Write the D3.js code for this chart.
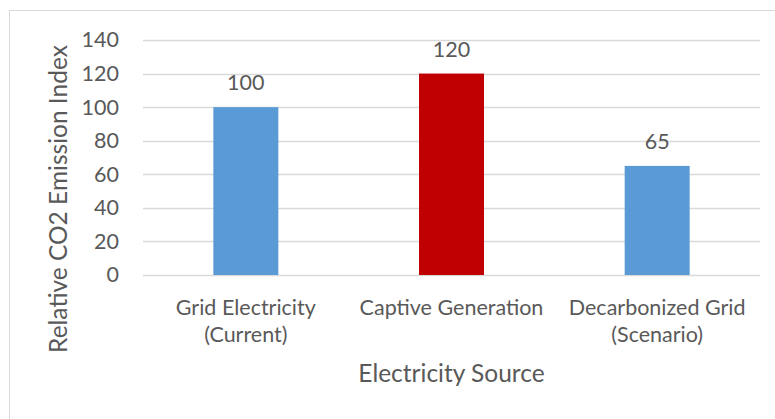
<!DOCTYPE html>
<html>
<head>
<meta charset="utf-8">
<script src="https://cdn.jsdelivr.net/npm/d3@7"></script>
<style>
  html, body { margin: 0; padding: 0; background: #fff; }
  svg { display: block; }
  text { font-family: Lato, "Open Sans", sans-serif; fill: #595959; }
</style>
</head>
<body>
<svg id="chart" width="775" height="419"></svg>
<script>
// Relative CO2 emission index by electricity source
const categories = [["Grid Electricity", "(Current)"], ["Captive Generation"], ["Decarbonized Grid", "(Scenario)"]];
const values = [100, 120, 65];
const barColors = ["#5b9bd5", "#c00000", "#5b9bd5"];
const yTicks = [0, 20, 40, 60, 80, 100, 120, 140];
const yTitle = "Relative CO2 Emission Index";
const xTitle = "Electricity Source";

const W = 775, H = 419;
const plot = { left: 143, right: 760, top: 40, bottom: 275 };
const labelSize = 21.5, titleSize = 24.5;

const svg = d3.select("#chart");

// chart area frame
svg.append("rect")
  .attr("x", 9.5).attr("y", 10.5)
  .attr("width", W + 10).attr("height", H + 10)
  .attr("fill", "#fff").attr("stroke", "#d9d9d9").attr("stroke-width", 1);

const x = d3.scaleBand()
  .domain(d3.range(categories.length))
  .range([plot.left, plot.right])
  .paddingInner(0).paddingOuter(0);

const y = d3.scaleLinear().domain([0, 140]).range([plot.bottom, plot.top]);

// gridlines
svg.append("g").selectAll("line").data(yTicks).join("line")
  .attr("x1", plot.left).attr("x2", plot.right)
  .attr("y1", d => Math.round(y(d)) + 0.5).attr("y2", d => Math.round(y(d)) + 0.5)
  .attr("stroke", "#d9d9d9").attr("stroke-width", 1.3);

// y axis labels
const yAxis = d3.axisLeft(y).tickValues(yTicks).tickSize(0).tickPadding(0);
const gy = svg.append("g").attr("transform", `translate(119,0)`).call(yAxis);
gy.select(".domain").remove();
gy.selectAll("text").attr("font-size", labelSize).attr("fill", "#595959")
  .style("font-family", "Lato, 'Open Sans', sans-serif");

// bars
const barW = x.bandwidth() * 0.316;
svg.append("g").selectAll("rect").data(values).join("rect")
  .attr("x", (d, i) => x(i) + x.bandwidth() / 2 - barW / 2)
  .attr("y", d => y(d))
  .attr("width", barW)
  .attr("height", d => y(0) - y(d))
  .attr("fill", (d, i) => barColors[i]);

// value labels
svg.append("g").selectAll("text").data(values).join("text")
  .attr("x", (d, i) => x(i) + x.bandwidth() / 2)
  .attr("y", d => y(d) - 17)
  .attr("text-anchor", "middle")
  .attr("font-size", labelSize)
  .text(d => d);

// category labels
const cat = svg.append("g").selectAll("text").data(categories).join("text")
  .attr("x", (d, i) => x(i) + x.bandwidth() / 2)
  .attr("y", 315)
  .attr("text-anchor", "middle")
  .attr("font-size", labelSize);
cat.selectAll("tspan").data(d => d).join("tspan")
  .attr("x", function () { return d3.select(this.parentNode).attr("x"); })
  .attr("dy", (d, i) => i === 0 ? 0 : 27)
  .text(d => d);

// axis titles
svg.append("text")
  .attr("x", (plot.left + plot.right) / 2).attr("y", 382)
  .attr("text-anchor", "middle").attr("font-size", titleSize)
  .text(xTitle);

svg.append("text")
  .attr("transform", `translate(67,199) rotate(-90)`)
  .attr("text-anchor", "middle").attr("font-size", titleSize)
  .text(yTitle);
</script>
</body>
</html>
